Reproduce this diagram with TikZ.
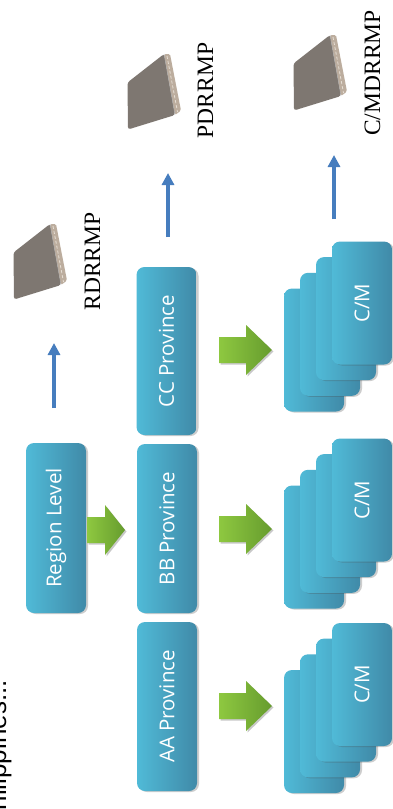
\documentclass[tikz,border=0pt]{standalone}
\usepackage{fontspec}
\usetikzlibrary{arrows.meta,shadows}
\newfontfamily\boxfont{Open Sans}
\newfontfamily\labelfont{Liberation Serif}
\newfontfamily\notefont{Liberation Sans}
\definecolor{boxL}{RGB}{80,186,215}
\definecolor{boxR}{RGB}{64,138,168}
\definecolor{greenL}{RGB}{142,200,64}
\definecolor{greenR}{RGB}{102,156,46}
\definecolor{upblue}{RGB}{70,125,190}
\definecolor{devface}{RGB}{126,119,113}
\definecolor{devedge}{RGB}{188,173,158}
\definecolor{devpage}{RGB}{230,222,212}

% filled block arrow: start x, head start x, tip x, centre y
\newcommand\blockarrow[4]{%
  \path[blockarrow] (#1,#4-13) -- (#2,#4-13) -- (#2,#4-25) -- (#3,#4)
    -- (#2,#4+25) -- (#2,#4+13) -- (#1,#4+13) -- cycle;}

\tikzset{
  softshadow/.style={drop shadow={shadow xshift=2pt, shadow yshift=-1pt, opacity=0.28, fill=black!70}},
  levelbox/.style={rectangle, rounded corners=8pt, left color=boxL, right color=boxR,
    softshadow, text=white, font=\boxfont\fontsize{20.5}{24}\selectfont,
    minimum width=60pt, inner sep=0pt},
  card/.style={levelbox, minimum height=123pt},
  blockarrow/.style={left color=greenL, right color=greenR,
    drop shadow={shadow xshift=1.5pt, shadow yshift=-1.5pt, opacity=0.3, fill=black!70}},
  uparrow/.style={draw=upblue, line width=3.2pt, -{Triangle[width=12pt,length=12pt]}},
  devlabel/.style={rotate=90, anchor=base, inner sep=0pt,
    font=\labelfont\fontsize{23.5}{26}\selectfont},
  device/.pic={
    \fill[devface, rounded corners=2.5pt] (37,0) -- (0.5,28.5) -- (1,75.5) -- (48,61) -- cycle;
    \fill[devedge, rounded corners=1.5pt] (37,0) -- (43,0) -- (54,56.5) -- (48,61) -- cycle;
    \draw[devpage, line width=0.8pt, dash pattern=on 3pt off 2pt] (40,2) -- (50.5,58);
    \draw[black!35, line width=0.4pt] (37,0) -- (48,61);
  }
}

\begin{document}
\begin{tikzpicture}[x=1pt, y=-1pt]
  \fill[white] (0,0) rectangle (392,809);
  \useasboundingbox (0,0) rectangle (392,809);

  % heading running up the left edge
  \node[rotate=90, anchor=base east, inner sep=0pt,
        font=\notefont\fontsize{26}{30}\selectfont] (heading) at (6,680) {Philippines...};

  % level boxes
  \node[levelbox, minimum height=170pt] (region) at (56,528) {\rotatebox{90}{Region Level}};
  \node[levelbox, minimum height=169pt] (aa) at (167,706.5) {\rotatebox{90}{AA Province}};
  \node[levelbox, minimum height=169pt] (bb) at (167,528.5) {\rotatebox{90}{BB Province}};
  \node[levelbox, minimum height=168pt] (cc) at (166.5,351) {\rotatebox{90}{CC Province}};

  % stacks of city / municipality cards
  \foreach \n/\y in {aa/731.5, bb/547, cc/350}{
    \node[card] (\n1) at (314,\y) {};
    \node[card] (\n2) at (330,\y-15.7) {};
    \node[card] (\n3) at (346,\y-31.4) {};
    \node[card] (\n4) at (362,\y-47) {\rotatebox{90}{C/M}};
  }

  % green block arrows
  \blockarrow{87}{105}{125}{530}
  \blockarrow{219}{246}{272}{706}
  \blockarrow{219}{246}{272}{529}
  \blockarrow{219}{246}{272}{350}

  % plans
  \pic at (13,224) {device};
  \pic at (127,54) {device};
  \pic at (293,35) {device};
  \node[devlabel] (rlab) at (100,261.5) {RDRRMP};
  \node[devlabel] (plab) at (213,90.5) {PDRRMP};
  \node[devlabel] (clab) at (380,73) {C/MDRRMP};

  % blue arrows up to the plans
  \coordinate (r0) at (54,408);  \coordinate (r1) at (54,343);
  \coordinate (p0) at (168,237); \coordinate (p1) at (168,173);
  \coordinate (c0) at (334,219); \coordinate (c1) at (334,155);
  \draw[uparrow] (r0) -- (r1);
  \draw[uparrow] (p0) -- (p1);
  \draw[uparrow] (c0) -- (c1);
\end{tikzpicture}
\end{document}
